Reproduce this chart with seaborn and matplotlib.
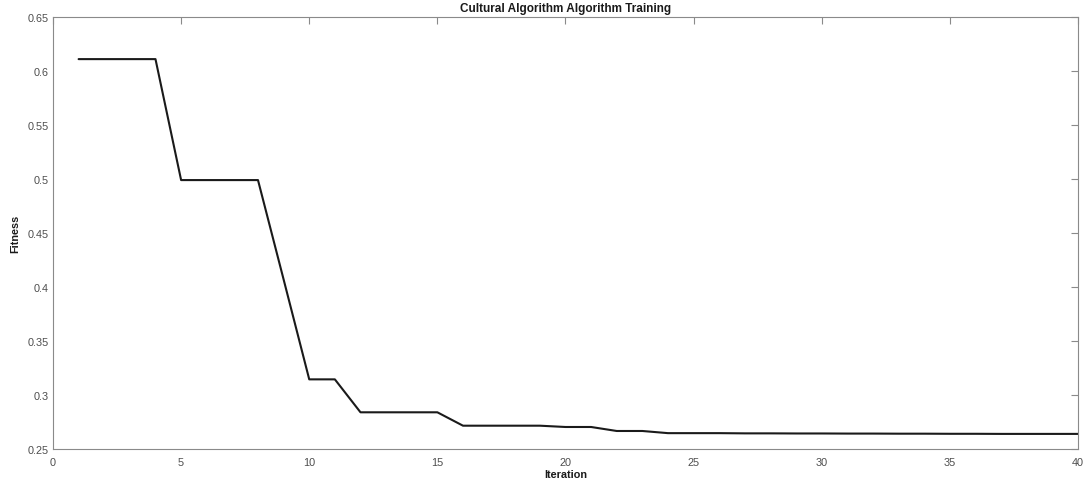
import matplotlib
matplotlib.use("Agg")
import matplotlib.pyplot as plt
import seaborn as sns
import pandas as pd

# Best fitness per iteration of the cultural algorithm
iterations = list(range(1, 41))
fitness = [
    0.611, 0.611, 0.611, 0.611,
    0.499, 0.499, 0.499, 0.499,
    0.407,
    0.3145, 0.3145,
    0.284, 0.284, 0.284, 0.284,
    0.2716, 0.2716, 0.2716, 0.2716,
    0.2704, 0.2704,
    0.2667, 0.2667,
    0.2647, 0.2647, 0.2647, 0.2645, 0.2645, 0.2644, 0.2644,
    0.2643, 0.2643, 0.2642, 0.2642, 0.2641, 0.2641, 0.2640, 0.2640, 0.2640, 0.2640,
]
x_ticks = [0, 5, 10, 15, 20, 25, 30, 35, 40]
y_ticks = [0.25, 0.3, 0.35, 0.4, 0.45, 0.5, 0.55, 0.6, 0.65]
y_tick_labels = ["0.25", "0.3", "0.35", "0.4", "0.45", "0.5", "0.55", "0.6", "0.65"]

df = pd.DataFrame({"Iteration": iterations, "Fitness": fitness})

sns.set_theme(style="white")
plt.rcParams["font.family"] = ["Liberation Sans", "DejaVu Sans"]

fig = plt.figure(figsize=(10.88, 4.81), dpi=100)
ax = fig.add_axes([0.0487, 0.0644, 0.9421, 0.8982])

sns.lineplot(data=df, x="Iteration", y="Fitness", ax=ax,
             color="#1a1a1a", linewidth=1.5)

axis_grey = "#8a8a8a"
label_grey = "#4d4d4d"
ax.set_xlim(0, 40)
ax.set_ylim(0.25, 0.65)
ax.set_xticks(x_ticks)
ax.set_xticklabels([str(t) for t in x_ticks])
ax.set_yticks(y_ticks)
ax.set_yticklabels(y_tick_labels)

for side in ["left", "right", "top", "bottom"]:
    ax.spines[side].set_visible(True)
    ax.spines[side].set_color(axis_grey)
    ax.spines[side].set_linewidth(0.8)

ax.tick_params(axis="both", which="major", direction="in", length=5,
               width=0.8, color=axis_grey, labelcolor=label_grey,
               labelsize=7.8, top=True, right=True, pad=3)
ax.tick_params(axis="x", pad=6)

ax.set_title("Cultural Algorithm Algorithm Training", fontsize=8.5,
             fontweight="bold", color="#1a1a1a", pad=4)
ax.set_xlabel("Iteration", fontsize=7.8, fontweight="bold",
              color="#1a1a1a", labelpad=1)
ax.set_ylabel("Fitness", fontsize=7.8, fontweight="bold",
              color="#1a1a1a", labelpad=5)

fig.savefig("out.png", dpi=100, facecolor="white")
